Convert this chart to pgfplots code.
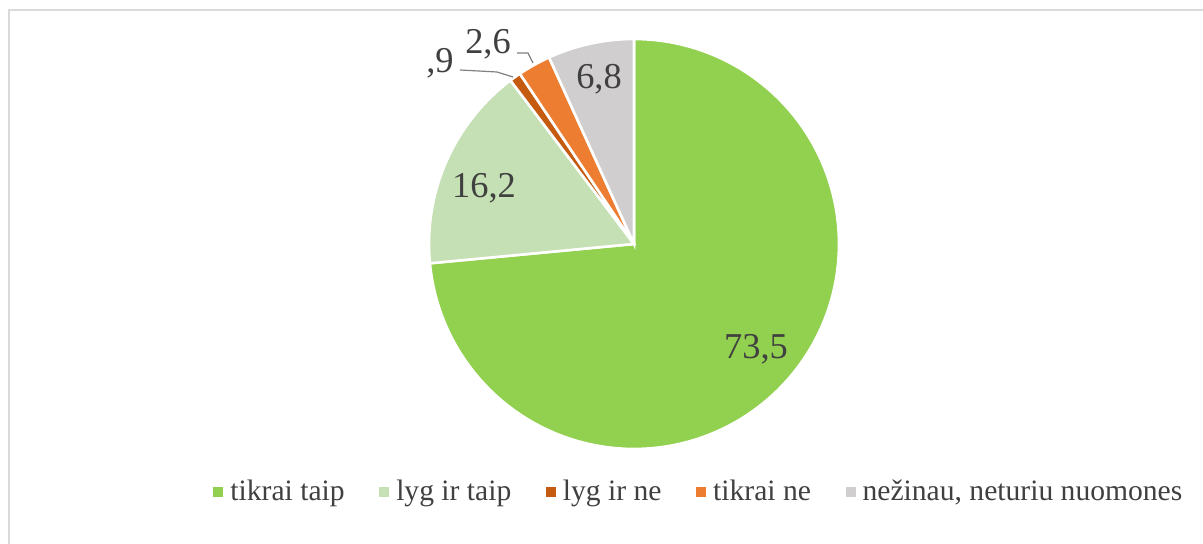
\documentclass[border=0pt]{standalone}
\usepackage{pgfplots}
\usepackage{pgfplotstable}
\pgfplotsset{compat=1.18}
\usepackage{fontspec}
\setmainfont{Liberation Serif}
\definecolor{cA}{HTML}{92D050}
\definecolor{cB}{HTML}{C5E0B4}
\definecolor{cC}{HTML}{C55A11}
\definecolor{cD}{HTML}{ED7D31}
\definecolor{cE}{HTML}{D0CECE}
\definecolor{txt}{HTML}{404040}
\definecolor{frame}{HTML}{D9D9D9}
\pgfplotstableread{
label value
A 73.5
B 16.2
C 0.9
D 2.6
E 6.8
}\piedata
\begin{document}
\begin{tikzpicture}
\pgfplotstablegetelem{0}{value}\of\piedata\let\vA\pgfplotsretval
\pgfplotstablegetelem{1}{value}\of\piedata\let\vB\pgfplotsretval
\pgfplotstablegetelem{2}{value}\of\piedata\let\vC\pgfplotsretval
\pgfplotstablegetelem{3}{value}\of\piedata\let\vD\pgfplotsretval
\pgfplotstablegetelem{4}{value}\of\piedata\let\vE\pgfplotsretval
\pgfmathsetmacro{\aZ}{90}%
\pgfmathsetmacro{\aA}{\aZ-3.6*\vA}%
\pgfmathsetmacro{\aB}{\aA-3.6*\vB}%
\pgfmathsetmacro{\aC}{\aB-3.6*\vC}%
\pgfmathsetmacro{\aD}{\aC-3.6*\vD}%
\pgfmathsetmacro{\aE}{\aD-3.6*\vE}%
\begin{axis}[
  hide axis, scale only axis,
  width=601.5pt, height=272pt,
  xmin=0, xmax=1203, ymin=0, ymax=544,
  clip=false,
  legend columns=5,
  legend cell align=left,
  legend image code/.code={\fill[#1, draw=none] (0pt,-2.5pt) rectangle (5pt,2.5pt);},
  legend style={draw=none, fill=none, inner sep=0pt, at={(axis cs:213,52)}, anchor=west,
    font=\fontsize{14.8}{16}\selectfont, text=txt,
    /tikz/every odd column/.append style={column sep=1.5pt},
    /tikz/every even column/.append style={column sep=15.3pt}},
  every axis plot/.append style={draw=white, line width=1.3pt, samples=120, variable=\t},
]
\addplot[fill=cA, domain=\aA:\aZ] ({634+205*cos(t)}, {300+205*sin(t)}) -- (axis cs:634,300) -- cycle;
\addlegendentry{tikrai taip}
\addplot[fill=cB, domain=\aB:\aA] ({634+205*cos(t)}, {300+205*sin(t)}) -- (axis cs:634,300) -- cycle;
\addlegendentry{lyg ir taip}
\addplot[fill=cC, domain=\aC:\aB, samples=10] ({634+205*cos(t)}, {300+205*sin(t)}) -- (axis cs:634,300) -- cycle;
\addlegendentry{lyg ir ne}
\addplot[fill=cD, domain=\aD:\aC, samples=20] ({634+205*cos(t)}, {300+205*sin(t)}) -- (axis cs:634,300) -- cycle;
\addlegendentry{tikrai ne}
\addplot[fill=cE, domain=\aE:\aD, samples=40] ({634+205*cos(t)}, {300+205*sin(t)}) -- (axis cs:634,300) -- cycle;
\addlegendentry{nežinau, neturiu nuomones}
% frame
\draw[frame, line width=1pt] (axis cs:9,0) -- (axis cs:9,534) -- (axis cs:1203,534);
% labels
\begin{scope}[every node/.style={font=\fontsize{18.2}{20}\selectfont, text=txt, inner sep=0pt}]
\node at (axis cs:756,195) {73,5};
\node at (axis cs:484,356) {16,2};
\node at (axis cs:599,465) {6,8};
\node at (axis cs:488,500) {2,6};
\node at (axis cs:440,481) {,9};
\end{scope}
\draw[gray, line width=0.6pt] (axis cs:517,491) -- (axis cs:528,491) -- (axis cs:533,481);
\draw[gray, line width=0.6pt] (axis cs:460,474) -- (axis cs:497,472) -- (axis cs:513,467);
\coordinate (bbSW) at (axis cs:0,0);
\coordinate (bbNE) at (axis cs:1203,544);
\end{axis}
\pgfresetboundingbox
\path[use as bounding box] (bbSW) rectangle (bbNE);
\end{tikzpicture}
\end{document}
